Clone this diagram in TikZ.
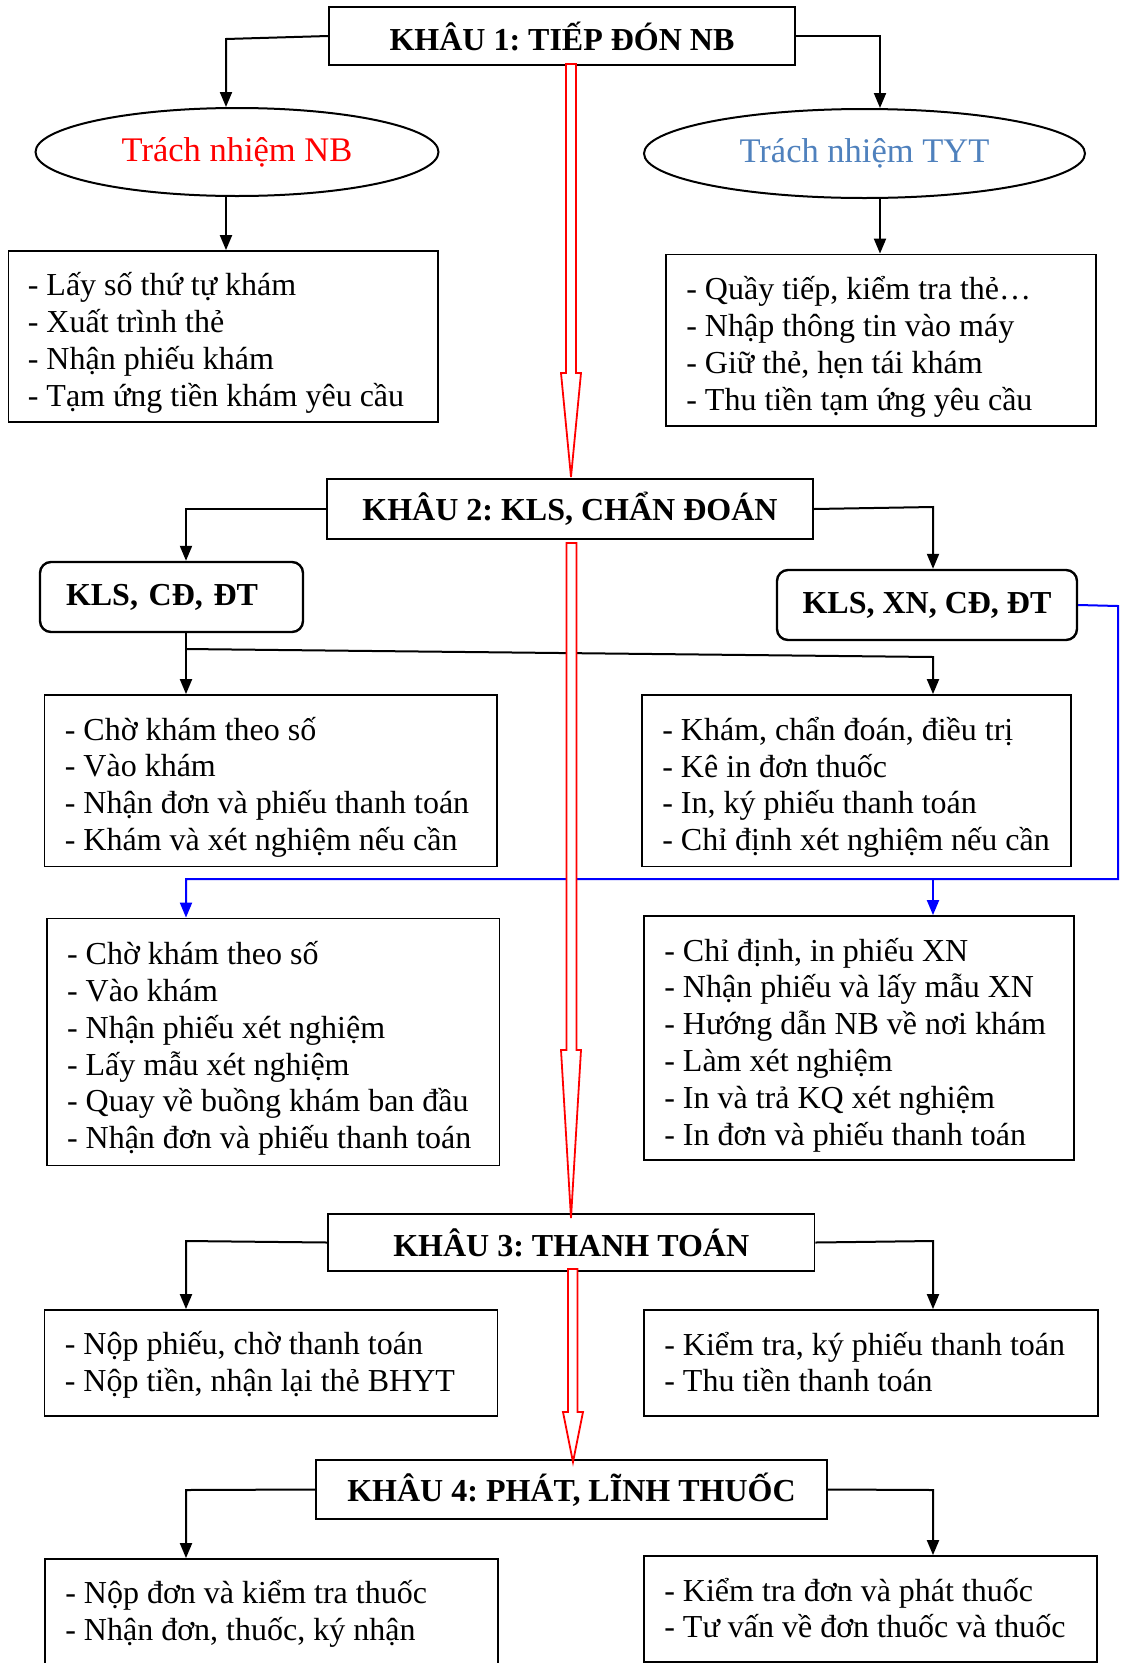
\documentclass[tikz,border=0pt]{standalone}
\usepackage{fontspec}
\setmainfont{Liberation Serif}
\usetikzlibrary{arrows.meta,shapes.geometric}
\definecolor{tytblue}{RGB}{79,129,189}
\definecolor{linkblue}{RGB}{0,0,255}
\tikzset{
  body/.style={font=\fontsize{32}{36.8}\selectfont, align=left, inner sep=0pt, anchor=west},
  frame/.style={draw, line width=1.8pt, inner sep=0pt},
  head/.style={frame, font=\bfseries\fontsize{32}{36.8}\selectfont},
  rbox/.style={draw, rounded corners=11pt, line width=2.4pt, inner sep=0pt, font=\bfseries\fontsize{32}{36.8}\selectfont},
  oval/.style={draw, ellipse, line width=2pt, inner sep=0pt, font=\fontsize{34.5}{40}\selectfont},
  conn/.style={line width=2pt, -{Triangle[length=15pt,width=12pt]}},
  bconn/.style={conn, draw=linkblue},
  hollow/.style={draw=red, line width=1.8pt, fill=white, line join=miter},
}
\begin{document}
\frenchspacing
\begin{tikzpicture}[x=1pt,y=-1pt]
\useasboundingbox (0,0) rectangle (1120,1663);
\clip (0,0) rectangle (1120,1663);
\fill[white] (0,0) rectangle (1120,1663);

% ---- Khau 1
\node[head, minimum width=466pt, minimum height=58pt] (k1) at (562,36) {KHÂU 1: TIẾP ĐÓN NB};
\node[oval, minimum width=403pt, minimum height=88pt, text=red] (e1) at (237,152) {Trách nhiệm NB};
\node[oval, minimum width=441pt, minimum height=89pt, text=tytblue] (e2) at (864.5,153.5) {Trách nhiệm TYT};
\node[frame, minimum width=429.5pt, minimum height=171pt] (b1) at (223.25,336.5) {};
\node[body] (t1) at ([xshift=20pt,yshift=-6.5pt]b1.west) {- Lấy số thứ tự khám\\- Xuất trình thẻ\\- Nhận phiếu khám\\- Tạm ứng tiền khám yêu cầu};
\node[frame, minimum width=430pt, minimum height=171.5pt] (b2) at (881,340.25) {};
\node[body] (t2) at ([xshift=21pt,yshift=-6.5pt]b2.west) {- Quầy tiếp, kiểm tra thẻ…\\- Nhập thông tin vào máy\\- Giữ thẻ, hẹn tái khám\\- Thu tiền tạm ứng yêu cầu};

% ---- Khau 2
\node[head, minimum width=486pt, minimum height=60pt] (k2) at (570,509) {KHÂU 2: KLS, CHẨN ĐOÁN};
\node[rbox, minimum width=263pt, minimum height=70pt, text width=211pt, align=left] (r1) at (171.5,597) {KLS, CĐ, ĐT};
\node[rbox, minimum width=300pt, minimum height=70pt] (r2) at (927,605) {KLS, XN, CĐ, ĐT};
\node[frame, minimum width=452.5pt, minimum height=171.5pt] (b3) at (270.75,780.75) {};
\node[body] (t3) at ([xshift=21pt,yshift=-6.5pt]b3.west) {- Chờ khám theo số\\- Vào khám\\- Nhận đơn và phiếu thanh toán\\- Khám và xét nghiệm nếu cần};
\node[frame, minimum width=429pt, minimum height=171.5pt] (b4) at (856.5,780.75) {};
\node[body] (t4) at ([xshift=21pt,yshift=-6.5pt]b4.west) {- Khám, chẩn đoán, điều trị\\- Kê in đơn thuốc\\- In, ký phiếu thanh toán\\- Chỉ định xét nghiệm nếu cần};
\node[frame, minimum width=452.8pt, minimum height=247pt] (b5) at (273.1,1042) {};
\node[body] (t5) at ([xshift=21pt,yshift=-6.5pt]b5.west) {- Chờ khám theo số\\- Vào khám\\- Nhận phiếu xét nghiệm\\- Lấy mẫu xét nghiệm\\- Quay về buồng khám ban đầu\\- Nhận đơn và phiếu thanh toán};
\node[frame, minimum width=430pt, minimum height=244pt] (b6) at (859,1038) {};
\node[body] (t6) at ([xshift=21pt,yshift=-7pt]b6.west) {- Chỉ định, in phiếu XN\\- Nhận phiếu và lấy mẫu XN\\- Hướng dẫn NB về nơi khám\\- Làm xét nghiệm\\- In và trả KQ xét nghiệm\\- In đơn và phiếu thanh toán};

% ---- Khau 3
\node[head, minimum width=486.5pt, minimum height=57pt] (k3) at (571.25,1242.5) {KHÂU 3: THANH TOÁN};
\node[frame, minimum width=453pt, minimum height=106pt] (b7) at (271,1363) {};
\node[body] (t7) at ([xshift=21pt,yshift=-2pt]b7.west) {- Nộp phiếu, chờ thanh toán\\- Nộp tiền, nhận lại thẻ BHYT};
\node[frame, minimum width=454pt, minimum height=106pt] (b8) at (871,1363) {};
\node[body] (t8) at ([xshift=21pt,yshift=1pt]b8.west) {- Kiểm tra, ký phiếu thanh toán\\- Thu tiền thanh toán};

% ---- Khau 4
\node[head, minimum width=511pt, minimum height=59pt] (k4) at (571.5,1489.5) {KHÂU 4: PHÁT, LĨNH THUỐC};
\node[frame, minimum width=453pt, minimum height=106pt] (b9) at (271.5,1612) {};
\node[body] (t9) at ([xshift=21pt,yshift=-2pt]b9.west) {- Nộp đơn và kiểm tra thuốc\\- Nhận đơn, thuốc, ký nhận};
\node[frame, minimum width=453pt, minimum height=106pt] (b10) at (870.5,1609) {};
\node[body] (t10) at ([xshift=21pt,yshift=1pt]b10.west) {- Kiểm tra đơn và phát thuốc\\- Tư vấn về đơn thuốc và thuốc};

% ---- connectors
\coordinate (c1) at (226,39);
\coordinate (c2) at (880,36);
\draw[conn] (k1.west) -- (c1) -- (c1 |- e1.north);
\draw[conn] (k1.east) -- (c2) -- (c2 |- e2.north);
\draw[conn] (e1.south -| c1) -- (c1 |- b1.north);
\draw[conn] (e2.south -| c2) -- (c2 |- b2.north);

\coordinate (c3) at (186,509);
\coordinate (c4) at (933,507);
\coordinate (br1) at (186,649);
\coordinate (br2) at (933,657);
\draw[conn] (k2.west) -- (c3) -- (c3 |- r1.north);
\draw[conn] (k2.east) -- (c4) -- (c4 |- r2.north);
\draw[conn] (c3 |- r1.south) -- (c3 |- b3.north);
\draw[conn] (br1) -- (br2) -- (c4 |- b4.north);

\coordinate (bl1) at (1118,606);
\coordinate (bl2) at (1118,879);
\coordinate (bl3) at (186,879);
\coordinate (bl4) at (933,879);
\draw[bconn] (r2.east) -- (bl1) -- (bl2) -- (bl3) -- (bl3 |- b5.north);
\draw[bconn] (bl4) -- (bl4 |- b6.north);

\coordinate (c5) at (186,1241);
\coordinate (c6) at (933,1241);
\draw[conn] (k3.west) -- (c5) -- (c5 |- b7.north);
\draw[conn] (k3.east) -- (c6) -- (c6 |- b8.north);

\coordinate (c7) at (186,1490);
\coordinate (c8) at (933,1490);
\draw[conn] (k4.west) -- (c7) -- (c7 |- b9.north);
\draw[conn] (k4.east) -- (c8) -- (c8 |- b10.north);

% ---- red hollow arrows between stages
\draw[hollow] (566,64) -- (576,64) -- (576,373) -- (581,373) -- (571,477) -- (561,373) -- (566,373) -- cycle;
\draw[hollow] (566.5,543) -- (576.5,543) -- (576.5,1050) -- (581,1050) -- (571,1218) -- (561,1050) -- (566.5,1050) -- cycle;
\draw[hollow] (568,1269) -- (577.5,1269) -- (577.5,1412) -- (583,1412) -- (573,1462) -- (563,1412) -- (568,1412) -- cycle;
\end{tikzpicture}
\end{document}
